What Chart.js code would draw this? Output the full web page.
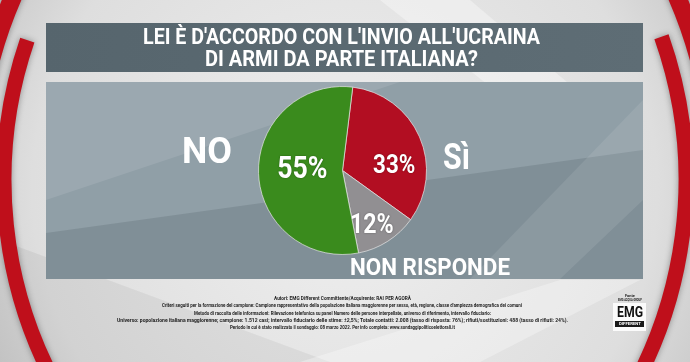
<!DOCTYPE html>
<html>
<head>
<meta charset="utf-8">
<title>Armi all'Ucraina</title>
<script src="https://cdn.jsdelivr.net/npm/chart.js@4.4.1/dist/chart.umd.min.js"></script>
<style>
  html, body { margin: 0; padding: 0; width: 690px; height: 362px; overflow: hidden; background: #d8d8d8; }
  #stage { position: relative; width: 690px; height: 362px; }
  #stage canvas { position: absolute; left: 0; top: 0; }
  .txt {
    position: absolute; white-space: nowrap; line-height: 1;
    font-family: Roboto, 'Liberation Sans', sans-serif; font-weight: 700;
    transform-origin: left top;
  }
  .foot { color: #1e1e1e; font-weight: 700; }
</style>
</head>
<body>
<div id="stage">
  <canvas id="poll" width="690" height="362"></canvas>
</div>
<script>
// --- data ---
const categories = ['Sì', 'NON RISPONDE', 'NO'];
const shares = [33, 12, 55];
const titleLines = ["LEI È D'ACCORDO CON L'INVIO ALL'UCRAINA", 'DI ARMI DA PARTE ITALIANA?'];
const footLines = [
  'Autori: EMG Different Committente/Acquirente: RAI PER AGORÀ',
  "Criteri seguiti per la formazione del campione: Campione rappresentativo della popolazione italiana maggiorenne per sesso, età, regione, classe d'ampiezza demografica dei comuni",
  'Metodo di raccolta delle informazioni: Rilevazione telefonica su panel Numero delle persone interpellate, universo di riferimento, intervallo fiduciario:',
  'Universo: popolazione italiana maggiorenne; campione: 1.512 casi; intervallo fiduciario delle stime: ±2,5%; Totale contatti: 2.008 (tasso di risposta: 76%); rifiuti/sostituzioni: 488 (tasso di rifiuti: 24%).',
  'Periodo in cui è stato realizzato il sondaggio: 08 marzo 2022. Per info completa: www.sondaggipoliticoelettorali.it'
];

// --- styling ---
const sliceColors = ['#b20e22', '#918f92', '#3a8b1d'];
// where the category names sit (left edge, cap centre, width, size)
const catPlace = [
  { x: 443, cy: 156, w: 27, size: 36 },
  { x: 350, cy: 267, w: 160, size: 23 },
  { x: 182, cy: 150, w: 50, size: 36 }
];
// percentage labels: polar position from the pie centre (deg from top, fraction of radius)
const pctPlace = [
  { angle: 83, frac: 0.62, size: 26 },
  { angle: 151, frac: 0.72, size: 27 },
  { angle: 275, frac: 0.48, size: 31 }
];

const stage = document.getElementById('stage');

// place a line of text so its caps are centred on cy and it spans width w
function addText(str, o) {
  const el = document.createElement('div');
  el.className = 'txt' + (o.cls ? ' ' + o.cls : '');
  el.textContent = str;
  el.style.fontSize = o.size + 'px';
  el.style.color = o.color || '#fff';
  stage.appendChild(el);
  const natural = el.getBoundingClientRect().width;
  const sx = o.w / natural;
  const left = o.center !== undefined ? o.center - o.w / 2 : o.x;
  el.style.left = left + 'px';
  el.style.top = (o.cy - 0.486 * o.size) + 'px';
  el.style.transform = 'scaleX(' + sx.toFixed(4) + ')';
  return el;
}

// backdrop: studio background, red rings, title bar and panel
const backdrop = {
  id: 'backdrop',
  beforeDraw(chart) {
    const ctx = chart.ctx;
    ctx.save();
    const bg = ctx.createRadialGradient(345, 190, 40, 345, 190, 430);
    bg.addColorStop(0, '#ededed');
    bg.addColorStop(0.7, '#dedede');
    bg.addColorStop(1, '#c4c4c4');
    ctx.fillStyle = bg;
    ctx.fillRect(0, 0, 690, 362);

    // pale diagonal facets
    ctx.fillStyle = 'rgba(255,255,255,0.35)';
    ctx.beginPath();
    ctx.moveTo(380, 0); ctx.lineTo(470, 0); ctx.lineTo(600, 110); ctx.lineTo(520, 110);
    ctx.closePath(); ctx.fill();
    ctx.fillStyle = 'rgba(0,0,0,0.05)';
    ctx.beginPath();
    ctx.moveTo(0, 240); ctx.lineTo(330, 362); ctx.lineTo(0, 362);
    ctx.closePath(); ctx.fill();
    ctx.fillStyle = 'rgba(255,255,255,0.3)';
    ctx.beginPath();
    ctx.moveTo(300, 362); ctx.lineTo(560, 280); ctx.lineTo(640, 280); ctx.lineTo(480, 362);
    ctx.closePath(); ctx.fill();

    // red rings
    ctx.shadowColor = 'rgba(0,0,0,0.35)';
    ctx.shadowBlur = 6;
    ctx.strokeStyle = '#bf0f1b';
    ctx.lineCap = 'butt';
    ctx.lineWidth = 15;
    ctx.beginPath(); ctx.arc(435, 180, 431, 2.6, 3.472); ctx.stroke();
    ctx.beginPath(); ctx.arc(255, 180, 431, -0.339, 0.6); ctx.stroke();
    ctx.lineWidth = 18;
    ctx.beginPath(); ctx.arc(435, 180, 460, -3.0, -2.6); ctx.stroke();
    ctx.beginPath(); ctx.arc(255, 180, 460, -0.6, -0.2); ctx.stroke();
    ctx.shadowBlur = 0;
    ctx.shadowColor = 'transparent';

    // title bar
    const tb = ctx.createLinearGradient(46, 23, 643, 72);
    tb.addColorStop(0, '#56656d');
    tb.addColorStop(1, '#5e6d75');
    ctx.fillStyle = tb;
    ctx.fillRect(46, 23, 597, 49);

    // chart panel
    ctx.fillStyle = '#909fa7';
    ctx.fillRect(46, 82, 597, 197);
    ctx.save();
    ctx.beginPath(); ctx.rect(46, 82, 597, 197); ctx.clip();
    ctx.fillStyle = 'rgba(40,55,62,0.15)';
    ctx.beginPath();
    ctx.moveTo(46, 233); ctx.lineTo(643, 150); ctx.lineTo(643, 279); ctx.lineTo(46, 279);
    ctx.closePath(); ctx.fill();
    ctx.fillStyle = 'rgba(255,255,255,0.10)';
    ctx.beginPath();
    ctx.moveTo(46, 82); ctx.lineTo(400, 82); ctx.lineTo(46, 200);
    ctx.closePath(); ctx.fill();
    ctx.fillStyle = 'rgba(255,255,255,0.09)';
    ctx.beginPath();
    ctx.moveTo(643, 100); ctx.lineTo(643, 200); ctx.lineTo(560, 279); ctx.lineTo(470, 279);
    ctx.closePath(); ctx.fill();
    ctx.restore();
    ctx.restore();
  }
};

// percentages inside the slices
const pctLabels = {
  id: 'pctLabels',
  afterDatasetsDraw(chart) {
    const ctx = chart.ctx;
    const meta = chart.getDatasetMeta(0);
    meta.data.forEach(function (arc, i) {
      const p = pctPlace[i];
      const a = p.angle * Math.PI / 180;
      const r = arc.outerRadius * p.frac;
      ctx.save();
      ctx.translate(arc.x + r * Math.sin(a), arc.y - r * Math.cos(a));
      ctx.scale(0.86, 1);
      ctx.font = 'bold ' + p.size + 'px Roboto, sans-serif';
      ctx.textAlign = 'center';
      ctx.textBaseline = 'alphabetic';
      ctx.shadowColor = 'rgba(0,0,0,0.35)';
      ctx.shadowBlur = 2;
      ctx.fillStyle = '#ffffff';
      ctx.fillText(shares[i] + '%', 0, 0.355 * p.size);
      ctx.restore();
    });
  }
};

new Chart(document.getElementById('poll'), {
  type: 'pie',
  data: {
    labels: categories,
    datasets: [{
      data: shares,
      backgroundColor: sliceColors,
      borderColor: 'rgba(230,230,230,0.7)',
      borderWidth: 1
    }]
  },
  options: {
    responsive: false,
    animation: false,
    events: [],
    rotation: 7,
    layout: { padding: { left: 258, right: 263, top: 86, bottom: 107 } },
    plugins: {
      legend: { display: false },
      tooltip: { enabled: false }
    }
  },
  plugins: [backdrop, pctLabels]
});

// title
addText(titleLines[0], { x: 143, cy: 37, w: 397, size: 22 });
addText(titleLines[1], { x: 205, cy: 59, w: 273, size: 22 });

// category names beside the pie
categories.forEach(function (name, i) {
  addText(name, catPlace[i]);
});

// survey notes
const footY = [298, 305.3, 312.6, 319.9, 327.2];
const footW = [137, 360, 297, 451, 225];
footLines.forEach(function (line, i) {
  addText(line, { center: 342, cy: footY[i], w: footW[i], size: 6, color: '#1e1e1e', cls: 'foot' });
});

// source logo
const logo = document.createElement('div');
logo.style.cssText = 'position:absolute;left:613px;top:303px;width:33px;height:28px;background:#fbfbfb;';
stage.appendChild(logo);
addText('Fonte', { center: 629.5, cy: 295.5, w: 10, size: 4, color: '#222', cls: 'foot' });
addText('EMG ACQUA GROUP', { center: 629.5, cy: 300, w: 24, size: 4, color: '#222', cls: 'foot' });
addText('EMG', { center: 629.5, cy: 312, w: 26, size: 14, color: '#111' });
const bar = document.createElement('div');
bar.style.cssText = 'position:absolute;left:615px;top:321px;width:29px;height:6px;background:#1a1a1a;';
stage.appendChild(bar);
addText('DIFFERENT', { center: 629.5, cy: 324, w: 22, size: 4, color: '#fff' });
</script>
</body>
</html>
